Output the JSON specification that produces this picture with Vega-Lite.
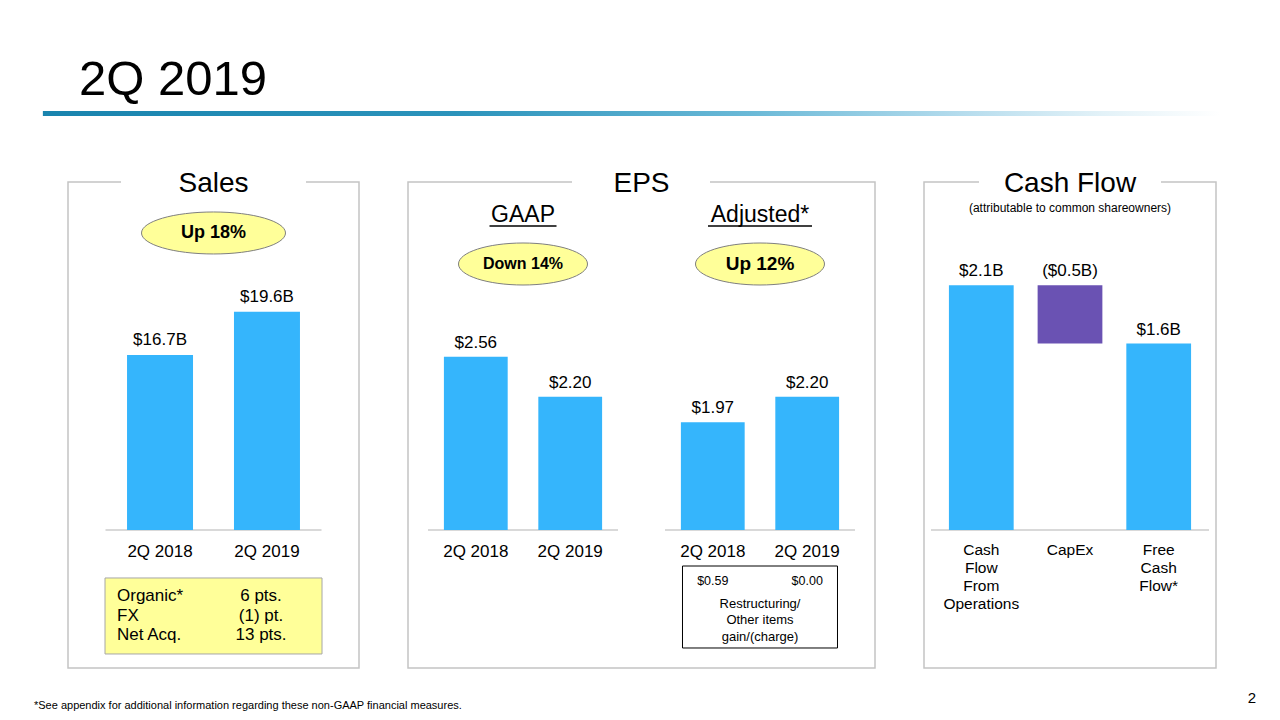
{
  "$schema": "https://vega.github.io/schema/vega-lite/v6.json",
  "background": "white",
  "padding": {"left": 33, "top": 56, "right": 0, "bottom": 0},
  "autosize": {"type": "pad"},
  "config": {
    "font": "Liberation Sans",
    "view": {"stroke": null},
    "title": {"color": "#000000", "fontWeight": "normal"},
    "text": {"color": "#000000"}
  },
  "title": {"text": "2Q 2019", "anchor": "start", "dx": 11, "fontSize": 49, "baseline": "alphabetic", "offset": -34, "frame": "group"},
  "spacing": 49,
  "bounds": "flush",
  "hconcat": [
    {
      "width": 291,
      "height": 486,
      "view": {"stroke": "#c4c4c4", "strokeWidth": 1.5, "strokeDash": [53, 185, 2000]},
      "title": {"text": "Sales", "fontSize": 28, "baseline": "alphabetic", "offset": -108.5, "frame": "group"},
      "data": {"values": [
        {"period": "2Q 2018", "sales": 16.7, "label": "$16.7B"},
        {"period": "2Q 2019", "sales": 19.6, "label": "$19.6B"}
      ]},
      "layer": [
        {
          "data": {"values": [{"part": "header rule"}]},
          "mark": {
            "type": "point", "shape": "M-1,-0.00424H1V0.00424H-1Z", "size": 1387684, "filled": true, "strokeWidth": 0, "opacity": 1,
            "fill": {
              "gradient": "linear", "x1": 0, "x2": 1, "y1": 0, "y2": 0,
              "stops": [
                {"offset": 0, "color": "#1984ae"},
                {"offset": 0.35, "color": "#2b93bb"},
                {"offset": 0.6, "color": "#6ab9d7"},
                {"offset": 0.78, "color": "#b5dced"},
                {"offset": 0.9, "color": "#e3f2f8"},
                {"offset": 1, "color": "#ffffff"}
              ]
            }
          },
          "encoding": {
            "x": {"datum": "2Q 2019", "type": "nominal", "bandPosition": 6.03, "axis": null},
            "y": {"datum": 32.86, "type": "quantitative", "scale": {"domain": [-4.23, 28.28], "nice": false, "zero": false}, "axis": null}
          }
        },
        {
          "data": {"values": [{"note": "*See appendix for additional information regarding these non-GAAP financial measures."}]},
          "mark": {"type": "text", "align": "left", "baseline": "alphabetic", "fontSize": 11},
          "encoding": {
            "x": {"datum": "2Q 2018", "type": "nominal", "bandPosition": -1.41, "axis": null},
            "y": {"datum": -6.97, "type": "quantitative", "scale": {"domain": [-4.23, 28.28], "nice": false, "zero": false}, "axis": null},
            "text": {"field": "note"}
          }
        },
        {
          "data": {"values": [{"line": "baseline"}]},
          "mark": {"type": "point", "shape": "M-1,0L1,0", "size": 46656, "filled": false, "stroke": "#d9d9d9", "strokeWidth": 2, "opacity": 1},
          "encoding": {"y": {"datum": 5, "type": "quantitative", "scale": {"domain": [-4.23, 28.28], "nice": false, "zero": false}, "axis": null}}
        },
        {
          "mark": {"type": "bar", "color": "#35b5fc"},
          "encoding": {
            "x": {"field": "period", "type": "nominal", "scale": {"domain": ["2Q 2018", "2Q 2019"], "paddingInner": 0.383, "paddingOuter": 0.552}, "axis": null},
            "y": {"field": "sales", "type": "quantitative", "scale": {"domain": [-4.23, 28.28], "nice": false, "zero": false}, "axis": null},
            "y2": {"datum": 5}
          }
        },
        {
          "mark": {"type": "text", "fontSize": 17, "baseline": "alphabetic", "dy": -10},
          "encoding": {
            "x": {"field": "period", "type": "nominal", "axis": null},
            "y": {"field": "sales", "type": "quantitative", "scale": {"domain": [-4.23, 28.28], "nice": false, "zero": false}, "axis": null},
            "text": {"field": "label"}
          }
        },
        {
          "mark": {"type": "text", "fontSize": 17, "baseline": "alphabetic"},
          "encoding": {
            "x": {"field": "period", "type": "nominal", "axis": null},
            "y": {"datum": 3.19, "type": "quantitative", "scale": {"domain": [-4.23, 28.28], "nice": false, "zero": false}, "axis": null},
            "text": {"field": "period"}
          }
        },
        {
          "data": {"values": [{"callout": "Up 18%"}]},
          "layer": [
            {
              "mark": {"type": "point", "shape": "M-1,0A1,0.2917,0,1,0,1,0A1,0.2917,0,1,0,-1,0Z", "size": 20736, "filled": true, "fill": "#ffff99", "stroke": "#7f7f7f", "strokeWidth": 1, "opacity": 1},
              "encoding": {"y": {"datum": 24.87, "type": "quantitative", "scale": {"domain": [-4.23, 28.28], "nice": false, "zero": false}, "axis": null}}
            },
            {
              "mark": {"type": "text", "fontSize": 18, "fontWeight": "bold", "baseline": "middle"},
              "encoding": {
                "y": {"datum": 24.87, "type": "quantitative", "scale": {"domain": [-4.23, 28.28], "nice": false, "zero": false}, "axis": null},
                "text": {"field": "callout"}
              }
            }
          ]
        },
        {
          "data": {"values": [{"components": "Organic*\nFX\nNet Acq.", "change": "6 pts.\n(1) pt.\n13 pts."}]},
          "layer": [
            {
              "mark": {"type": "point", "shape": "M-1,-0.3502H1V0.3502H-1Z", "size": 47089, "filled": true, "fill": "#ffff99", "stroke": "#a6a6a6", "strokeWidth": 1, "opacity": 1},
              "encoding": {"y": {"datum": -0.75, "type": "quantitative", "scale": {"domain": [-4.23, 28.28], "nice": false, "zero": false}, "axis": null}}
            },
            {
              "mark": {"type": "text", "fontSize": 17, "align": "left", "baseline": "alphabetic", "lineBreak": "\n", "lineHeight": 19.5},
              "encoding": {
                "x": {"datum": "2Q 2018", "type": "nominal", "bandPosition": -0.152, "axis": null},
                "y": {"datum": 0.25, "type": "quantitative", "scale": {"domain": [-4.23, 28.28], "nice": false, "zero": false}, "axis": null},
                "text": {"field": "components"}
              }
            },
            {
              "mark": {"type": "text", "fontSize": 17, "align": "center", "baseline": "alphabetic", "lineBreak": "\n", "lineHeight": 19.5},
              "encoding": {
                "x": {"datum": "2Q 2019", "type": "nominal", "bandPosition": 0.41, "axis": null},
                "y": {"datum": 0.25, "type": "quantitative", "scale": {"domain": [-4.23, 28.28], "nice": false, "zero": false}, "axis": null},
                "text": {"field": "change"}
              }
            }
          ]
        }
      ]
    },
    {
      "width": 467,
      "height": 486,
      "view": {"stroke": "#c4c4c4", "strokeWidth": 1.5, "strokeDash": [164, 138, 3000]},
      "title": {"text": "EPS", "fontSize": 28, "baseline": "alphabetic", "offset": -38, "frame": "group"},
      "data": {"values": [
        {"measure": "GAAP", "period": "2Q 2018", "eps": 2.56, "label": "$2.56"},
        {"measure": "GAAP", "period": "2Q 2019", "eps": 2.20, "label": "$2.20"},
        {"measure": "Adjusted", "period": "2Q 2018", "eps": 1.97, "label": "$1.97"},
        {"measure": "Adjusted", "period": "2Q 2019", "eps": 2.20, "label": "$2.20"}
      ]},
      "layer": [
        {
          "data": {"values": [{"measure": "GAAP"}, {"measure": "Adjusted"}]},
          "mark": {"type": "point", "shape": "M-1,0L1,0", "size": 36100, "filled": false, "stroke": "#d9d9d9", "strokeWidth": 2, "opacity": 1},
          "encoding": {
            "x": {"field": "measure", "type": "nominal", "axis": null},
            "y": {"datum": 1, "type": "quantitative", "scale": {"domain": [-0.242, 4.132], "nice": false, "zero": false}, "axis": null}
          }
        },
        {
          "mark": {"type": "bar", "color": "#35b5fc"},
          "encoding": {
            "x": {"field": "measure", "type": "nominal", "scale": {"domain": ["GAAP", "Adjusted"], "paddingInner": 0.2034, "paddingOuter": 0.087}, "axis": null},
            "xOffset": {"field": "period", "type": "nominal", "scale": {"domain": ["2Q 2018", "2Q 2019"], "paddingInner": 0.3245, "paddingOuter": 0.162}},
            "y": {"field": "eps", "type": "quantitative", "scale": {"domain": [-0.242, 4.132], "nice": false, "zero": false}, "axis": null},
            "y2": {"datum": 1}
          }
        },
        {
          "mark": {"type": "text", "fontSize": 17, "baseline": "alphabetic", "dy": -9},
          "encoding": {
            "x": {"field": "measure", "type": "nominal", "axis": null},
            "xOffset": {"field": "period", "type": "nominal"},
            "y": {"field": "eps", "type": "quantitative", "scale": {"domain": [-0.242, 4.132], "nice": false, "zero": false}, "axis": null},
            "text": {"field": "label"}
          }
        },
        {
          "mark": {"type": "text", "fontSize": 17, "baseline": "alphabetic"},
          "encoding": {
            "x": {"field": "measure", "type": "nominal", "axis": null},
            "xOffset": {"field": "period", "type": "nominal"},
            "y": {"datum": 0.757, "type": "quantitative", "scale": {"domain": [-0.242, 4.132], "nice": false, "zero": false}, "axis": null},
            "text": {"field": "period"}
          }
        },
        {
          "data": {"values": [
            {"measure": "GAAP", "header": "GAAP", "callout": "Down 14%"},
            {"measure": "Adjusted", "header": "Adjusted*", "callout": "Up 12%"}
          ]},
          "layer": [
            {
              "mark": {"type": "text", "fontSize": 23, "baseline": "alphabetic"},
              "encoding": {
                "x": {"field": "measure", "type": "nominal", "axis": null},
                "y": {"datum": 3.772, "type": "quantitative", "scale": {"domain": [-0.242, 4.132], "nice": false, "zero": false}, "axis": null},
                "text": {"field": "header"}
              }
            },
            {
              "transform": [{"filter": "datum.measure === 'GAAP'"}],
              "mark": {"type": "point", "shape": "M-1,0L1,0", "size": 4489, "filled": false, "stroke": "#000000", "strokeWidth": 1.5, "opacity": 1},
              "encoding": {
                "x": {"field": "measure", "type": "nominal", "axis": null},
                "y": {"datum": 3.736, "type": "quantitative", "scale": {"domain": [-0.242, 4.132], "nice": false, "zero": false}, "axis": null}
              }
            },
            {
              "transform": [{"filter": "datum.measure === 'Adjusted'"}],
              "mark": {"type": "point", "shape": "M-1,0L1,0", "size": 10816, "filled": false, "stroke": "#000000", "strokeWidth": 1.5, "opacity": 1},
              "encoding": {
                "x": {"field": "measure", "type": "nominal", "axis": null},
                "y": {"datum": 3.736, "type": "quantitative", "scale": {"domain": [-0.242, 4.132], "nice": false, "zero": false}, "axis": null}
              }
            },
            {
              "mark": {"type": "point", "shape": "M-1,0A1,0.3256,0,1,0,1,0A1,0.3256,0,1,0,-1,0Z", "size": 16641, "filled": true, "fill": "#ffff99", "stroke": "#7f7f7f", "strokeWidth": 1, "opacity": 1},
              "encoding": {
                "x": {"field": "measure", "type": "nominal", "axis": null},
                "y": {"datum": 3.394, "type": "quantitative", "scale": {"domain": [-0.242, 4.132], "nice": false, "zero": false}, "axis": null}
              }
            },
            {
              "transform": [{"filter": "datum.measure === 'GAAP'"}],
              "mark": {"type": "text", "fontSize": 16, "fontWeight": "bold", "baseline": "middle"},
              "encoding": {
                "x": {"field": "measure", "type": "nominal", "axis": null},
                "y": {"datum": 3.394, "type": "quantitative", "scale": {"domain": [-0.242, 4.132], "nice": false, "zero": false}, "axis": null},
                "text": {"field": "callout"}
              }
            },
            {
              "transform": [{"filter": "datum.measure === 'Adjusted'"}],
              "mark": {"type": "text", "fontSize": 19, "fontWeight": "bold", "baseline": "middle"},
              "encoding": {
                "x": {"field": "measure", "type": "nominal", "axis": null},
                "y": {"datum": 3.394, "type": "quantitative", "scale": {"domain": [-0.242, 4.132], "nice": false, "zero": false}, "axis": null},
                "text": {"field": "callout"}
              }
            }
          ]
        },
        {
          "data": {"values": [
            {"measure": "Adjusted", "period": "2Q 2018", "items": "$0.59", "note": "Restructuring/\nOther items\ngain/(charge)"},
            {"measure": "Adjusted", "period": "2Q 2019", "items": "$0.00", "note": "Restructuring/\nOther items\ngain/(charge)"}
          ]},
          "layer": [
            {
              "transform": [{"filter": "datum.period === '2Q 2018'"}],
              "mark": {"type": "point", "shape": "M-1,-0.529H1V0.529H-1Z", "size": 24025, "filled": true, "fill": "#ffffff", "stroke": "#000000", "strokeWidth": 1, "opacity": 1},
              "encoding": {
                "x": {"field": "measure", "type": "nominal", "axis": null},
                "y": {"datum": 0.307, "type": "quantitative", "scale": {"domain": [-0.242, 4.132], "nice": false, "zero": false}, "axis": null}
              }
            },
            {
              "mark": {"type": "text", "fontSize": 12.5, "baseline": "alphabetic"},
              "encoding": {
                "x": {"field": "measure", "type": "nominal", "axis": null},
                "xOffset": {"field": "period", "type": "nominal"},
                "y": {"datum": 0.509, "type": "quantitative", "scale": {"domain": [-0.242, 4.132], "nice": false, "zero": false}, "axis": null},
                "text": {"field": "items"}
              }
            },
            {
              "transform": [{"filter": "datum.period === '2Q 2018'"}],
              "mark": {"type": "text", "fontSize": 13, "baseline": "alphabetic", "lineBreak": "\n", "lineHeight": 16.5},
              "encoding": {
                "x": {"field": "measure", "type": "nominal", "axis": null},
                "y": {"datum": 0.302, "type": "quantitative", "scale": {"domain": [-0.242, 4.132], "nice": false, "zero": false}, "axis": null},
                "text": {"field": "note"}
              }
            }
          ]
        }
      ]
    },
    {
      "width": 292,
      "height": 486,
      "view": {"stroke": "#c4c4c4", "strokeWidth": 1.5, "strokeDash": [55, 182, 2000]},
      "title": {"text": "Cash Flow", "fontSize": 28, "baseline": "alphabetic", "offset": -38, "frame": "group"},
      "data": {"values": [
        {"item": "Cash Flow From Operations", "caption": "Cash\nFlow\nFrom\nOperations", "flow": "Cash flow", "start": 0, "end": 2.1, "label": "$2.1B"},
        {"item": "CapEx", "caption": "CapEx", "flow": "CapEx", "start": 2.1, "end": 1.6, "label": "($0.5B)"},
        {"item": "Free Cash Flow", "caption": "Free\nCash\nFlow*", "flow": "Cash flow", "start": 0, "end": 1.6, "label": "$1.6B"}
      ]},
      "layer": [
        {
          "data": {"values": [{"line": "baseline"}]},
          "mark": {"type": "point", "shape": "M-1,0L1,0", "size": 77284, "filled": false, "stroke": "#d9d9d9", "strokeWidth": 2, "opacity": 1},
          "encoding": {"y": {"datum": 0, "type": "quantitative", "scale": {"domain": [-1.185, 2.987], "nice": false, "zero": false}, "axis": null}}
        },
        {
          "data": {"values": [{"subtitle": "(attributable to common shareowners)"}]},
          "mark": {"type": "text", "fontSize": 12, "baseline": "alphabetic"},
          "encoding": {
            "y": {"datum": 2.73, "type": "quantitative", "scale": {"domain": [-1.185, 2.987], "nice": false, "zero": false}, "axis": null},
            "text": {"field": "subtitle"}
          }
        },
        {
          "data": {"values": [{"page": "2"}]},
          "mark": {"type": "text", "fontSize": 15, "align": "right", "baseline": "alphabetic"},
          "encoding": {
            "x": {"datum": "Free Cash Flow", "type": "nominal", "bandPosition": 2.003, "axis": null},
            "y": {"datum": -1.485, "type": "quantitative", "scale": {"domain": [-1.185, 2.987], "nice": false, "zero": false}, "axis": null},
            "text": {"field": "page"}
          }
        },
        {
          "mark": {"type": "bar"},
          "encoding": {
            "x": {"field": "item", "type": "nominal", "scale": {"domain": ["Cash Flow From Operations", "CapEx", "Free Cash Flow"], "paddingInner": 0.27, "paddingOuter": 0.281}, "axis": null},
            "y": {"field": "end", "type": "quantitative", "scale": {"domain": [-1.185, 2.987], "nice": false, "zero": false}, "axis": null},
            "y2": {"field": "start"},
            "color": {"field": "flow", "type": "nominal", "scale": {"domain": ["Cash flow", "CapEx"], "range": ["#35b5fc", "#6a52b3"]}, "legend": null}
          }
        },
        {
          "transform": [{"filter": "datum.flow === 'Cash flow'"}],
          "mark": {"type": "text", "fontSize": 17, "baseline": "alphabetic", "dy": -9},
          "encoding": {
            "x": {"field": "item", "type": "nominal", "axis": null},
            "y": {"field": "end", "type": "quantitative", "scale": {"domain": [-1.185, 2.987], "nice": false, "zero": false}, "axis": null},
            "text": {"field": "label"}
          }
        },
        {
          "transform": [{"filter": "datum.flow === 'CapEx'"}],
          "mark": {"type": "text", "fontSize": 17, "baseline": "alphabetic", "dy": -9},
          "encoding": {
            "x": {"field": "item", "type": "nominal", "axis": null},
            "y": {"field": "start", "type": "quantitative", "scale": {"domain": [-1.185, 2.987], "nice": false, "zero": false}, "axis": null},
            "text": {"field": "label"}
          }
        },
        {
          "mark": {"type": "text", "fontSize": 15.5, "baseline": "alphabetic", "lineBreak": "\n", "lineHeight": 17.7},
          "encoding": {
            "x": {"field": "item", "type": "nominal", "axis": null},
            "y": {"datum": -0.219, "type": "quantitative", "scale": {"domain": [-1.185, 2.987], "nice": false, "zero": false}, "axis": null},
            "text": {"field": "caption"}
          }
        }
      ]
    }
  ]
}
